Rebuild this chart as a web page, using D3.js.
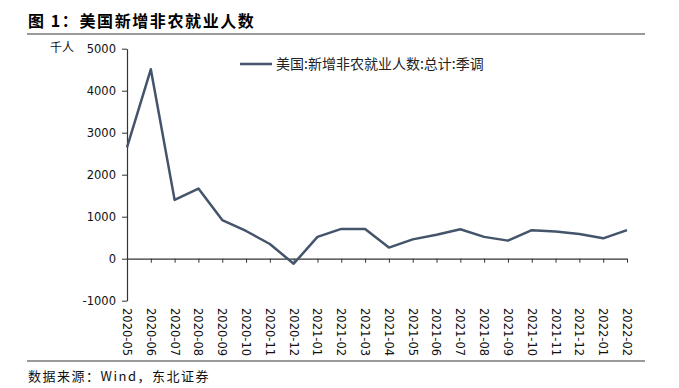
<!DOCTYPE html>
<html lang="zh">
<head>
<meta charset="UTF-8">
<title>美国新增非农就业人数</title>
<script src="https://cdn.jsdelivr.net/npm/d3@7"></script>
<style>
  body { margin: 0; background: #fff; }
  svg { display: block; }
</style>
</head>
<body>
<svg width="679" height="388"></svg>
<script>
  // monthly data, thousands of persons
  const months = ["2020-05","2020-06","2020-07","2020-08","2020-09","2020-10","2020-11","2020-12",
                  "2021-01","2021-02","2021-03","2021-04","2021-05","2021-06","2021-07","2021-08",
                  "2021-09","2021-10","2021-11","2021-12","2022-01","2022-02"]
  const payrolls = [2650, 4510, 1400, 1670, 920, 660, 350, -120,
                    520, 710, 705, 265, 460, 570, 700, 520,
                    430, 680, 645, 590, 485, 680]
  const yTicks = [-1000, 0, 1000, 2000, 3000, 4000, 5000]
  const seriesName = "美国:新增非农就业人数:总计:季调"

  const svg = d3.select("svg")
  const cjk = "'Noto Sans CJK SC', sans-serif"
  const num = "'DejaVu Sans', sans-serif"

  // header / footer
  svg.append("text").attr("x", 28).attr("y", 27)
    .attr("font-family", "'Noto Sans CJK SC', serif").attr("font-weight", "bold")
    .attr("font-size", 16).attr("letter-spacing", 1.6).attr("fill", "#000")
    .text("图 1：美国新增非农就业人数")
  svg.append("line").attr("x1", 27).attr("x2", 645).attr("y1", 34).attr("y2", 34)
    .attr("stroke", "#9a9a9a").attr("stroke-width", 2)
  svg.append("line").attr("x1", 27).attr("x2", 645).attr("y1", 361).attr("y2", 361)
    .attr("stroke", "#9a9a9a").attr("stroke-width", 2)
  svg.append("text").attr("x", 28).attr("y", 381)
    .attr("font-family", cjk).attr("font-size", 13).attr("letter-spacing", 1.5).attr("fill", "#111")
    .text("数据来源：Wind，东北证券")

  const x = d3.scalePoint().domain(months).range([127, 627])
  const y = d3.scaleLinear().domain([-1000, 5000]).range([300.7, 48.7])

  // y axis
  const yAxis = svg.append("g").attr("transform", "translate(127,0)")
    .call(d3.axisLeft(y).tickValues(yTicks).tickFormat(d => String(d))
      .tickSize(5).tickSizeOuter(0).tickPadding(6))
  yAxis.select(".domain").attr("stroke", "#333").attr("stroke-width", 1.2)
  yAxis.selectAll(".tick line").attr("stroke", "#333")
  yAxis.selectAll("text").attr("font-family", num).attr("font-size", 11.5).attr("fill", "#111")

  svg.append("text").attr("x", 50).attr("y", 52)
    .attr("font-family", cjk).attr("font-size", 12).attr("fill", "#111").text("千人")

  // x axis sits on zero
  const xAxis = svg.append("g").attr("transform", `translate(0,${y(0)})`)
    .call(d3.axisBottom(x).tickSize(4).tickSizeOuter(0).tickFormat(() => ""))
  xAxis.select(".domain").attr("stroke", "#333").attr("stroke-width", 1.2)
  xAxis.selectAll(".tick line").attr("stroke", "#333")

  svg.append("g").selectAll("text")
    .data(months)
    .join("text")
    .attr("transform", d => `translate(${x(d)},308) rotate(90)`)
    .attr("dy", "0.35em")
    .attr("font-family", num).attr("font-size", 11.5).attr("fill", "#111")
    .text(d => d)

  // series
  const line = d3.line().x((d, i) => x(months[i])).y(d => y(d))
  svg.append("path").datum(payrolls)
    .attr("d", line)
    .attr("fill", "none")
    .attr("stroke", "#44546a")
    .attr("stroke-width", 2.5)
    .attr("stroke-linejoin", "round")

  // legend
  svg.append("line").attr("x1", 240).attr("x2", 272).attr("y1", 64).attr("y2", 64)
    .attr("stroke", "#44546a").attr("stroke-width", 2.5)
  svg.append("text").attr("x", 276).attr("y", 69)
    .attr("font-family", cjk).attr("font-size", 14).attr("fill", "#222")
    .text(seriesName)
</script>
</body>
</html>
